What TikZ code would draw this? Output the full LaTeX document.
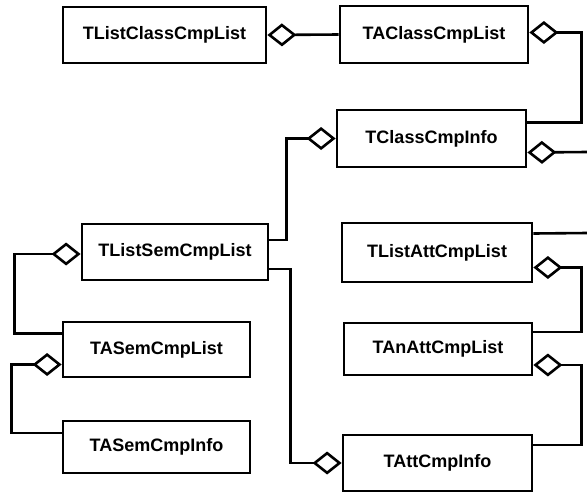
\documentclass[tikz,border=0pt]{standalone}
\usepackage{fontspec}
\newfontfamily\classfont{Liberation Sans}
\usetikzlibrary{
    arrows.meta,
    positioning,
    calc
}

\begin{document}
\begin{tikzpicture}[
        x=1pt, y=-1pt,
        block/.style={draw, line width=2.8pt, minimum width=188pt, minimum height=56pt, inner sep=0pt, align=center, font=\classfont\bfseries\fontsize{18}{20}\selectfont},
        link/.style={line width=2.6pt},
        agg/.style={link, {Diamond[open, length=29pt, width=23pt]}-}
    ]
        \useasboundingbox (0,0) rectangle (587,491);

        % Class list part
        \node[block, minimum width=203pt] (lclass) at (164.5, 35) {TListClassCmpList};

        \node[block, minimum height=57pt] (aclass) at (434, 34.5) {TAClassCmpList};

        \node[block, minimum width=189pt, minimum height=57pt] (cinfo) at (431.5, 138.5) {TClassCmpInfo};

        % Semantic part
        \node[block, minimum width=186pt] (lsem) at (175, 252) {TListSemCmpList};

        \node[block, minimum width=187pt, minimum height=55pt] (asem) at (156.5, 349.5) {TASemCmpList};

        \node[block, minimum width=187pt, minimum height=52pt] (seminfo) at (156.5, 447) {TASemCmpInfo};

        % Attribute part
        \node[block, minimum width=190pt, minimum height=59pt] (latt) at (437, 252.5) {TListAttCmpList};

        \node[block, minimum height=52pt] (anatt) at (438, 349) {TAnAttCmpList};

        \node[block, minimum width=189pt] (attinfo) at (437.5, 463) {TAttCmpInfo};

        % Free ends at the right border
        \coordinate (cutA) at (587, 152);
        \coordinate (cutB) at (587, 233);

        % Links - class
        \draw[agg] (lclass.east) -- (aclass.west);
        \draw[agg] ([yshift=2pt]aclass.east) -- ++(52,0) |- ([yshift=16pt]cinfo.east);
        \draw[agg] (cinfo.west) -- ++(-49,0) |- ([yshift=12pt]lsem.east);
        \draw[agg] ([yshift=-14pt]cinfo.east) -- (cutA);

        % Links - semantic
        \draw[agg] ([yshift=-2pt]lsem.west) -- ++(-66,0) |- ([yshift=16pt]asem.west);
        \draw[agg] ([yshift=-15pt]asem.west) -- ++(-50,0) |- ([yshift=14pt]seminfo.west);
        \draw[agg] (attinfo.west) -- ++(-51,0) |- ([yshift=-17pt]lsem.east);

        % Links - attribute
        \draw[link] ([yshift=19pt]latt.east) -- (cutB);
        \draw[agg] ([yshift=-15pt]latt.east) -- ++(48,0) |- ([yshift=17pt]anatt.east);
        \draw[agg] ([yshift=-16pt]anatt.east) -- ++(48,0) |- ([yshift=18pt]attinfo.east);
    \end{tikzpicture}
\end{document}
